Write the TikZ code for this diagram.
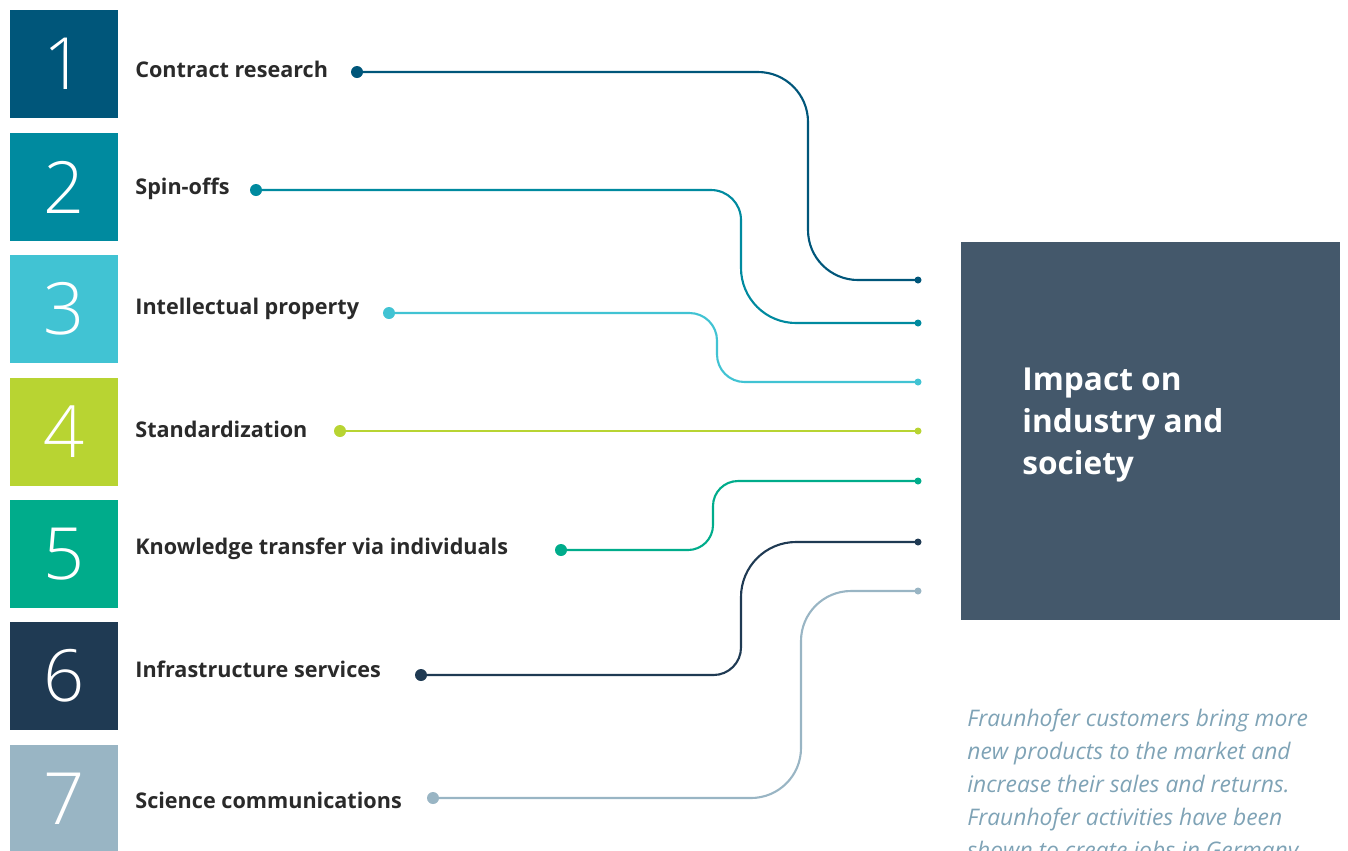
\documentclass[tikz,border=0pt]{standalone}
\usepackage{fontspec}
\setmainfont{Open Sans}
\newfontfamily\numfont{Open Sans Light}
\usetikzlibrary{positioning}

\definecolor{cone}{HTML}{00567A}
\definecolor{ctwo}{HTML}{008A9F}
\definecolor{cthree}{HTML}{41C3D3}
\definecolor{cfour}{HTML}{B8D432}
\definecolor{cfive}{HTML}{00AC8B}
\definecolor{csix}{HTML}{1F3A53}
\definecolor{cseven}{HTML}{99B5C4}
\definecolor{impact}{HTML}{44586B}
\definecolor{labeltext}{HTML}{2A2A2A}
\definecolor{notetext}{HTML}{7FA3B6}

\begin{document}
\begin{tikzpicture}[x=0.02cm,y=-0.02cm,
  numbox/.style={fill=#1,minimum width=2.16cm,minimum height=2.16cm,
                 inner sep=0pt,text=white,
                 font=\numfont\fontsize{41}{41}\selectfont},
  item/.style={anchor=west,inner sep=0pt,text=labeltext,
               font=\bfseries\fontsize{12.3}{14}\selectfont},
  startdot/.style={circle,fill=#1,minimum size=0.24cm,inner sep=0pt},
  enddot/.style={circle,fill=#1,minimum size=0.14cm,inner sep=0pt},
  link/.style={draw=#1,line width=1.2pt}]

  \useasboundingbox (0,0) rectangle (1348,850);
  \clip (0,0) rectangle (1348,850);

  % numbered boxes
  \node[numbox=cone]   (n1) at (64,64)  {1};
  \node[numbox=ctwo]   (n2) at (64,187) {2};
  \node[numbox=cthree] (n3) at (64,309) {3};
  \node[numbox=cfour]  (n4) at (64,432) {4};
  \node[numbox=cfive]  (n5) at (64,554) {5};
  \node[numbox=csix]   (n6) at (64,676) {6};
  \node[numbox=cseven] (n7) at (64,799) {7};

  % labels
  \node[item] (l1) at (135,69)  {Contract research};
  \node[item] (l2) at (135,189) {Spin-offs};
  \node[item] (l3) at (135,309) {Intellectual property};
  \node[item] (l4) at (135,429) {Standardization};
  \node[item] (l5) at (135,549) {Knowledge transfer via individuals};
  \node[item] (l6) at (135,669) {Infrastructure services};
  \node[item] (l7) at (135,800) {Science communications};

  % impact box
  \node[fill=impact,minimum width=7.58cm,minimum height=7.56cm,
        inner sep=0pt] (imp) at (1150.5,431) {};
  \node[anchor=north west,inner sep=0pt,align=left,text=white,
        font=\bfseries\fontsize{18}{23.8}\selectfont] (imptext) at (1022,368)
    {Impact on\\industry and\\society};

  % dots
  \node[startdot=cone]   (d1) at (357,72)  {};
  \node[startdot=ctwo]   (d2) at (256,190) {};
  \node[startdot=cthree] (d3) at (389,313) {};
  \node[startdot=cfour]  (d4) at (340,431) {};
  \node[startdot=cfive]  (d5) at (561,550) {};
  \node[startdot=csix]   (d6) at (421,675) {};
  \node[startdot=cseven] (d7) at (433,798) {};

  \node[enddot=cone]   (e1) at (918,280) {};
  \node[enddot=ctwo]   (e2) at (918,323) {};
  \node[enddot=cthree] (e3) at (918,382) {};
  \node[enddot=cfour]  (e4) at (918,431) {};
  \node[enddot=cfive]  (e5) at (918,481) {};
  \node[enddot=csix]   (e6) at (918,542) {};
  \node[enddot=cseven] (e7) at (918,591) {};

  % connectors
  \draw[link=cone,rounded corners=1cm]     (d1.center) -- (808,72)  -- (808,280) -- (e1.center);
  \draw[link=ctwo] (d2.center) [rounded corners=0.6cm] -- (741,190)
                               [rounded corners=1.1cm] -- (741,323) -- (e2.center);
  \draw[link=cthree,rounded corners=0.55cm](d3.center) -- (717,313) -- (717,382) -- (e3.center);
  \draw[link=cfour]                        (d4.center) -- (e4.center);
  \draw[link=cfive,rounded corners=0.5cm]  (d5.center) -- (713,550) -- (713,481) -- (e5.center);
  \draw[link=csix] (d6.center) [rounded corners=0.55cm] -- (741,675)
                               [rounded corners=1.1cm] -- (741,542) -- (e6.center);
  \draw[link=cseven,rounded corners=1cm]   (d7.center) -- (801,798) -- (801,591) -- (e7.center);

  % note
  \node[anchor=north west,inner sep=0pt,align=left,text=notetext,
        font=\itshape\fontsize{13}{18.7}\selectfont] (note) at (967,709)
    {Fraunhofer customers bring more\\new products to the market and\\increase their sales and returns.\\Fraunhofer activities have been\\shown to create jobs in Germany};

\end{tikzpicture}
\end{document}
